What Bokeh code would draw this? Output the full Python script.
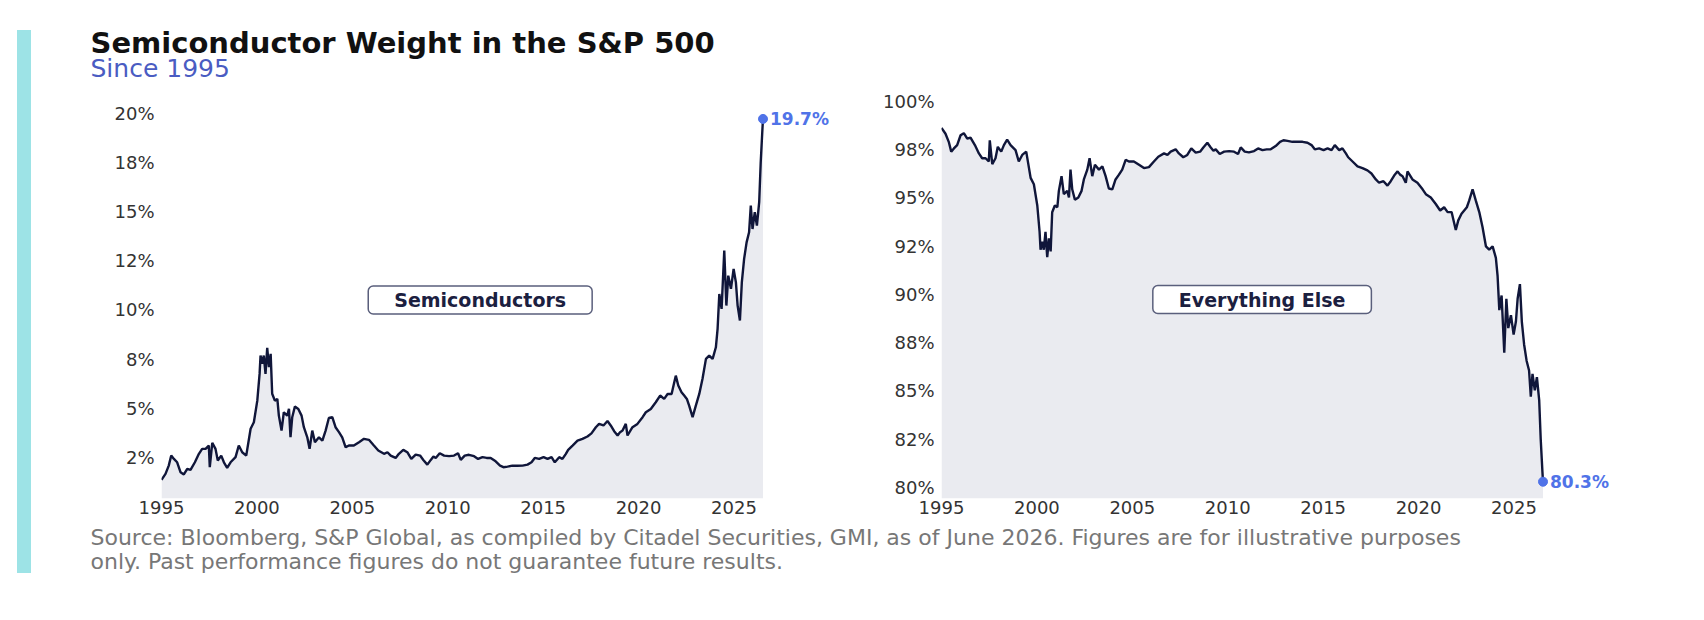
from bokeh.plotting import figure
from bokeh.models import Range1d, FixedTicker, Label, Spacer
from bokeh.layouts import row, column
from bokeh.core.properties import value
from bokeh.embed import file_html
from bokeh.resources import INLINE

# ---------------- data ----------------
years = [
    1995.00, 1995.21, 1995.38, 1995.51, 1995.65, 1995.82, 1996.00, 1996.17, 1996.35, 1996.52,
    1996.75, 1996.96, 1997.13, 1997.31, 1997.48, 1997.53, 1997.66, 1997.83, 1997.95, 1998.13,
    1998.27, 1998.44, 1998.62, 1998.88, 1999.05, 1999.23, 1999.44, 1999.67, 1999.84, 2000.02,
    2000.14, 2000.19, 2000.28, 2000.36, 2000.45, 2000.54, 2000.63, 2000.72, 2000.80, 2000.94,
    2001.07, 2001.15, 2001.29, 2001.41, 2001.59, 2001.68, 2001.76, 2001.85, 2001.99, 2002.17,
    2002.34, 2002.46, 2002.64, 2002.76, 2002.90, 2003.04, 2003.25, 2003.43, 2003.60, 2003.77,
    2003.95, 2004.12, 2004.30, 2004.47, 2004.65, 2004.82, 2005.08, 2005.35, 2005.61, 2005.87,
    2006.13, 2006.36, 2006.66, 2006.84, 2007.01, 2007.27, 2007.44, 2007.67, 2007.88, 2008.09,
    2008.32, 2008.55, 2008.72, 2008.93, 2009.11, 2009.25, 2009.37, 2009.58, 2009.81, 2010.07,
    2010.33, 2010.54, 2010.68, 2010.89, 2011.11, 2011.38, 2011.59, 2011.82, 2012.04, 2012.25,
    2012.51, 2012.74, 2012.92, 2013.13, 2013.39, 2013.65, 2013.92, 2014.18, 2014.39, 2014.56,
    2014.79, 2015.02, 2015.23, 2015.44, 2015.61, 2015.84, 2016.01, 2016.19, 2016.31, 2016.54,
    2016.80, 2017.06, 2017.32, 2017.53, 2017.76, 2017.93, 2018.16, 2018.37, 2018.54, 2018.72,
    2018.90, 2019.03, 2019.16, 2019.33, 2019.42, 2019.68, 2019.94, 2020.21, 2020.38, 2020.64,
    2020.90, 2021.13, 2021.34, 2021.52, 2021.73, 2021.87, 2021.95, 2022.08, 2022.25, 2022.39,
    2022.53, 2022.65, 2022.83, 2023.00, 2023.18, 2023.35, 2023.53, 2023.70, 2023.88, 2024.05,
    2024.14, 2024.23, 2024.35, 2024.49, 2024.60, 2024.70, 2024.84, 2024.98, 2025.10, 2025.19,
    2025.31, 2025.41, 2025.53, 2025.66, 2025.79, 2025.88, 2025.97, 2026.09, 2026.20, 2026.32,
    2026.40, 2026.49, 2026.52,
]
semiconductors = [
    1.37, 1.67, 2.09, 2.60, 2.43, 2.26, 1.75, 1.64, 1.93, 1.87,
    2.26, 2.69, 2.94, 2.94, 3.11, 2.01, 3.25, 2.94, 2.35, 2.60,
    2.26, 1.98, 2.26, 2.52, 3.11, 2.77, 2.60, 3.96, 4.29, 5.39,
    6.75, 7.68, 7.26, 7.68, 6.75, 8.07, 7.09, 7.77, 5.74, 5.39,
    5.48, 4.63, 3.87, 4.80, 4.63, 4.97, 3.53, 4.55, 5.09, 4.97,
    4.63, 4.04, 3.53, 2.94, 3.87, 3.28, 3.53, 3.36, 3.87, 4.51,
    4.55, 4.04, 3.79, 3.53, 3.02, 3.11, 3.11, 3.28, 3.45, 3.40,
    3.11, 2.86, 2.69, 2.77, 2.60, 2.48, 2.69, 2.89, 2.77, 2.43,
    2.65, 2.60, 2.38, 2.14, 2.38, 2.55, 2.48, 2.72, 2.60, 2.57,
    2.60, 2.72, 2.38, 2.60, 2.64, 2.57, 2.43, 2.52, 2.48, 2.48,
    2.31, 2.09, 2.01, 2.04, 2.09, 2.08, 2.09, 2.14, 2.26, 2.48,
    2.43, 2.52, 2.43, 2.52, 2.26, 2.52, 2.43, 2.69, 2.89, 3.11,
    3.36, 3.45, 3.57, 3.73, 4.04, 4.21, 4.13, 4.36, 4.13, 3.84,
    3.62, 3.79, 3.87, 4.21, 3.62, 4.04, 4.21, 4.55, 4.80, 4.97,
    5.31, 5.65, 5.48, 5.73, 5.73, 6.32, 6.66, 6.16, 5.82, 5.65,
    5.48, 5.14, 4.55, 5.14, 5.73, 6.50, 7.51, 7.68, 7.51, 8.10,
    9.04, 10.81, 10.05, 13.01, 10.22, 11.74, 11.07, 12.08, 11.40, 10.22,
    9.46, 11.40, 12.59, 13.43, 13.94, 15.30, 14.11, 14.96, 14.28, 15.47,
    17.50, 19.19, 19.70,
]
# "Everything Else" is the rest of the index
everything_else = [round(100 - v, 2) for v in semiconductors]

x_ticks = [1995, 2000, 2005, 2010, 2015, 2020, 2025]
x_tick_labels = ["1995", "2000", "2005", "2010", "2015", "2020", "2025"]
left_ticks = [2.5, 5, 7.5, 10, 12.5, 15, 17.5, 20]
left_tick_labels = ["2%", "5%", "8%", "10%", "12%", "15%", "18%", "20%"]
right_ticks = [80, 82.5, 85, 87.5, 90, 92.5, 95, 97.5, 100]
right_tick_labels = ["80%", "82%", "85%", "88%", "90%", "92%", "95%", "98%", "100%"]

title_text = "Semiconductor Weight in the S&P 500"
subtitle_text = "Since 1995"
source_lines = [
    "Source: Bloomberg, S&P Global, as compiled by Citadel Securities, GMI, as of June 2026. Figures are for illustrative purposes",
    "only. Past performance figures do not guarantee future results.",
]
panel_names = ["Semiconductors", "Everything Else"]

# ---------------- style / layout ----------------
LINE = "#10163a"
FILL = "#EAEBF0"
BLUE = "#5073E8"
CYAN = "#9DE3E6"
FONT = "DejaVu Sans"

MAIN_W = 1665
HEADER_H = 88
FOOTER_H = 90
PANEL_H = 434
FRAME_W = 687
X_END = 2031


def panel(width, mb_left, mb_right, y_start, y_end, ys, ticks, tick_labels, name, name_xy):
    p = figure(width=width, height=PANEL_H, title=None,
               x_range=Range1d(1995, X_END), y_range=Range1d(y_start, y_end),
               output_backend="svg", toolbar_location=None,
               min_border_left=mb_left, min_border_right=mb_right,
               min_border_top=7, min_border_bottom=24)
    p.background_fill_color = "white"
    p.border_fill_color = "white"
    p.outline_line_color = None
    p.grid.visible = False

    p.varea(x=years, y1=y_start, y2=ys, fill_color=FILL)
    p.line(years, ys, line_color=LINE, line_width=2.4)
    p.scatter([years[-1]], [ys[-1]], size=9, color=BLUE)
    p.add_layout(Label(x=years[-1], y=ys[-1], x_offset=7, text=f"{ys[-1]:.1f}%",
                       text_baseline="middle", text_align="left", text_font=FONT,
                       text_font_style="bold", text_font_size="17px", text_color=BLUE))
    p.add_layout(Label(x=name_xy[0], y=name_xy[1], text=name,
                       text_align="center", text_baseline="middle", text_font=FONT,
                       text_font_style="bold", text_font_size="19px", text_color="#1b2040",
                       background_fill_color="white", border_line_color="#5a5f7c",
                       border_line_width=1.5, padding=(26, 3), border_radius=5))

    for ax in (p.xaxis, p.yaxis):
        ax.axis_line_color = None
        ax.major_tick_line_color = None
        ax.minor_tick_line_color = None
        ax.major_tick_out = 0
        ax.major_tick_in = 0
        ax.minor_tick_out = 0
        ax.major_label_text_font = FONT
        ax.major_label_text_font_size = "18px"
        ax.major_label_text_color = "#333333"
    p.xaxis.ticker = FixedTicker(ticks=x_ticks)
    p.xaxis.major_label_overrides = dict(zip(x_ticks, x_tick_labels))
    p.xaxis.major_label_standoff = 2
    p.yaxis.ticker = FixedTicker(ticks=ticks)
    p.yaxis.major_label_overrides = dict(zip(ticks, tick_labels))
    p.yaxis.major_label_standoff = 7
    return p


left = panel(837, 130, 837 - 130 - FRAME_W, 0.42, 20.89, semiconductors,
             left_ticks, left_tick_labels, panel_names[0], (2011.7, 10.5))
right = panel(828, 73, 828 - 73 - FRAME_W, 79.43, 100.31, everything_else,
              right_ticks, right_tick_labels, panel_names[1], (2011.8, 89.74))


def text_strip(height):
    f = figure(width=MAIN_W, height=height, title=None,
               x_range=Range1d(0, MAIN_W), y_range=Range1d(0, height),
               output_backend="svg", toolbar_location=None, min_border=0,
               x_axis_location=None, y_axis_location=None)
    f.outline_line_color = None
    f.grid.visible = False
    f.background_fill_color = "white"
    f.border_fill_color = "white"
    return f


header = text_strip(HEADER_H)
header.text(x=[59], y=[46], text=[title_text], text_font=value(FONT), text_font_style="bold",
            text_font_size="29px", text_color="#111111", text_baseline="alphabetic")
header.text(x=[59], y=[20], text=[subtitle_text], text_font=value(FONT),
            text_font_size="25px", text_color="#4a5cc2", text_baseline="alphabetic")

footer = text_strip(FOOTER_H)
footer.text(x=[59, 59], y=[75, 51], text=source_lines, text_font=value(FONT),
            text_font_size="22px", text_color="#777777", text_baseline="alphabetic")

bar = Spacer(width=14, height=543, styles={"background-color": CYAN})
layout = row(
    Spacer(width=17, height=10),
    column(Spacer(width=14, height=30), bar),
    column(header, row(left, right), footer),
)

open("out.html", "w").write(file_html(layout, INLINE))
